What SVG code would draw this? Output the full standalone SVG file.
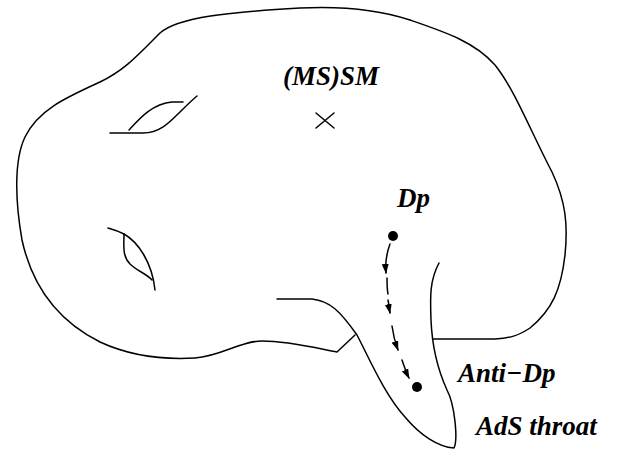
<svg xmlns="http://www.w3.org/2000/svg" width="618" height="462" viewBox="0 0 618 462">
  <style>
    .ln { fill: none; stroke: #000; stroke-width: 1.5; stroke-linecap: round; stroke-linejoin: round; }
    .lbl { font-family: "Liberation Serif", "Times New Roman", serif; font-weight: bold; font-style: italic; font-size: 27px; fill: #000; }
  </style>
  <defs>
    <marker id="arr" viewBox="0 0 10 10" refX="9" refY="5" markerWidth="10" markerHeight="10" markerUnits="userSpaceOnUse" orient="auto">
      <path d="M0,1.5 L10,5 L0,8.5 Z" fill="#000"/>
    </marker>
  </defs>
  <rect width="618" height="462" fill="#fff"/>

  <!-- main body outline -->
  <g id="body">
    <path class="ln" d="M355,335 L337,352 C320,349 290,341 262,341 C240,341 222,356 195,358 C160,360 128,355 100,342 C60,322 33,290 22,240 C15,200 14,160 25,137 C38,110 65,98 100,82 C125,70 138,55 160,33 C178,17 230,12 300,8 C340,6 380,10 410,20 C445,32 475,42 495,65 C515,90 530,130 552,172 C566,202 568,225 565,255 C561,290 552,310 530,328 C518,336 510,338 495,339 L433,339"/>
  </g>

  <!-- throat of the AdS region -->
  <g id="throat">
    <path class="ln" d="M277,299 L312,299 C330,301 340,311 357,335 C370,360 385,395 405,417 C420,435 438,447 454,448 C458,440 455,405 447,390 C437,368 432,345 431,320 C430,295 430,280 439,263"/>
  </g>

  <!-- folds on the surface -->
  <g id="fold-upper">
    <path class="ln" d="M110,133 L143,133 C160,133 170,122 180,112 C186,106 191,101 197,96"/>
    <path class="ln" d="M129,130 C140,118 152,104 172,102 L183,102"/>
  </g>
  <g id="fold-lower">
    <path class="ln" d="M108,228 C115,230 120,232 124,234 C138,242 152,262 155,290"/>
    <path class="ln" d="M124,234 C124,245 122,256 130,264 C137,271 147,274 152,280"/>
  </g>

  <!-- Standard Model point -->
  <g id="sm">
    <text class="lbl" x="283" y="85">(MS)SM</text>
    <path class="ln" d="M316,113 L334,128 M334,113 L316,128" stroke-width="2.5"/>
  </g>

  <!-- D-brane and its image -->
  <g id="dp">
    <text class="lbl" x="397" y="207">Dp</text>
    <circle cx="393" cy="236" r="5" fill="#000"/>
  </g>
  <g id="anti-dp">
    <text class="lbl" x="458" y="382">Anti−Dp</text>
    <circle cx="417" cy="387" r="5" fill="#000"/>
  </g>
  <g id="throat-label">
    <text class="lbl" x="476" y="435">AdS throat</text>
  </g>

  <!-- motion of the brane down the throat -->
  <g id="connectors">
    <path class="ln" d="M390,244 C387,252 385,262 386,273" marker-end="url(#arr)"/>
    <path class="ln" d="M387,278 C387,284 387,289 388,294"/>
    <path class="ln" d="M388,300 C389,304 389,308 390,313" marker-end="url(#arr)"/>
    <path class="ln" d="M392,326 C393,334 395,342 398,350" marker-end="url(#arr)"/>
    <path class="ln" d="M402,360 C404,366 406,372 409,378" marker-end="url(#arr)"/>
  </g>
</svg>
